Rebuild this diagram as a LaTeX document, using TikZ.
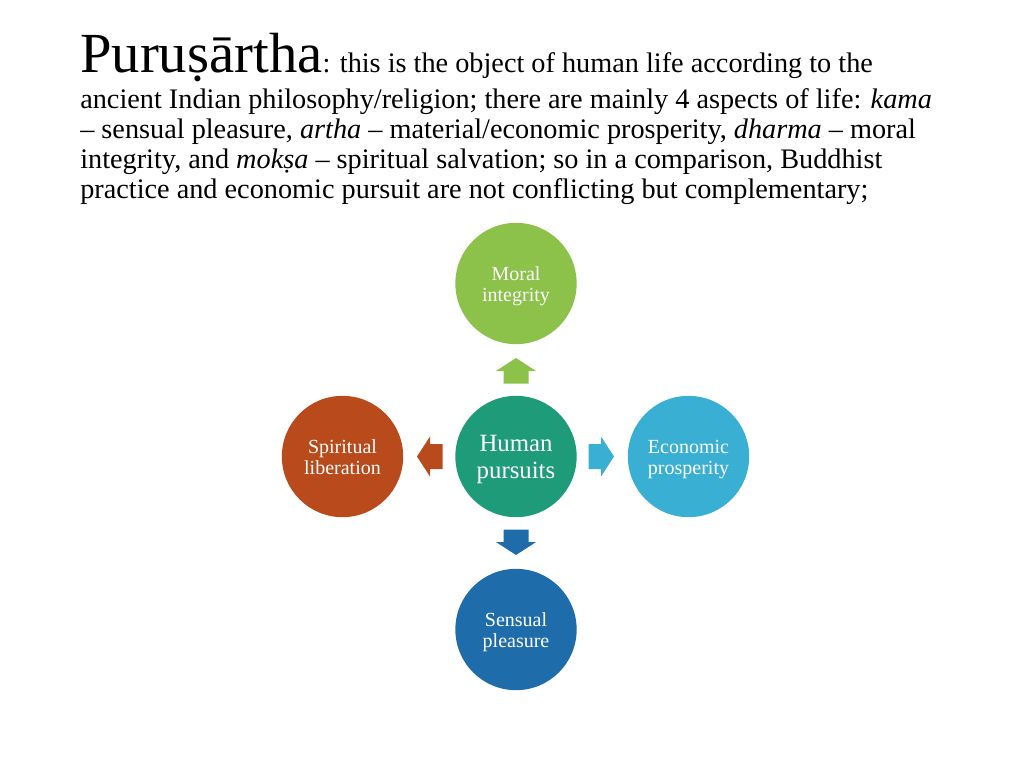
\documentclass[tikz,border=0pt]{standalone}
\usepackage{fontspec}
\setmainfont{Liberation Serif}
\definecolor{cgreen}{RGB}{140,193,74}
\definecolor{cteal}{RGB}{30,155,120}
\definecolor{ccyan}{RGB}{58,175,212}
\definecolor{corange}{RGB}{184,74,28}
\definecolor{cblue}{RGB}{31,108,170}
\tikzset{
  txtline/.style={anchor=base west, inner sep=0pt, font=\fontsize{21.2}{25}\selectfont},
  bubble/.style={circle, minimum size=91pt, inner sep=0pt},
  bubtext/.style={inner sep=0pt, text=white, align=center, font=\fontsize{15}{15.8}\selectfont}
}
\begin{document}
\begin{tikzpicture}[x=0.75pt,y=-0.75pt]
\useasboundingbox (0,0) rectangle (1024,768);
% heading text
\node[txtline] (l1) at (80,72) {{\fontsize{42.5}{48}\selectfont Puru\d{s}ārtha}: this is the object of human life according to the};
\node[txtline] (l2) at (80,108) {ancient Indian philosophy/religion; there are mainly 4 aspects of life: \textit{kama}};
\node[txtline] (l3) at (80,138) {– sensual pleasure, \textit{artha} – material/economic prosperity, \textit{dharma} – moral};
\node[txtline] (l4) at (80,168) {integrity, and \textit{mok\d{s}a} – spiritual salvation; so in a comparison, Buddhist};
\node[txtline] (l5) at (80,198) {practice and economic pursuit are not conflicting but complementary;};
% circles
\node[bubble, fill=cteal] (hp) at (516,456.5) {};
\node[bubble, fill=cgreen] (mi) at (516,283.5) {};
\node[bubble, fill=cblue] (sp) at (516,629.5) {};
\node[bubble, fill=corange] (sl) at (342.5,456.5) {};
\node[bubble, fill=ccyan] (ep) at (688.5,456.5) {};
\node[bubtext, font=\fontsize{18.6}{20.2}\selectfont] (hpt) at ([yshift=-2.2pt]hp.center) {Human\\pursuits};
\node[bubtext] (mit) at ([yshift=-2pt]mi.center) {Moral\\integrity};
\node[bubtext] (spt) at ([yshift=-2pt]sp.center) {Sensual\\pleasure};
\node[bubtext] (slt) at ([yshift=-0.8pt]sl.center) {Spiritual\\liberation};
\node[bubtext] (ept) at ([yshift=-2pt]ep.center) {Economic\\prosperity};
% block arrows
\fill[cgreen] (516,358) -- (536,371) -- (528.5,371) -- (528.5,383.5) -- (503.5,383.5) -- (503.5,371) -- (496,371) -- cycle;
\fill[cblue] (516,555) -- (536,542) -- (528.5,542) -- (528.5,529.5) -- (503.5,529.5) -- (503.5,542) -- (496,542) -- cycle;
\fill[ccyan] (614,456.5) -- (601,436.5) -- (601,444) -- (588.5,444) -- (588.5,469) -- (601,469) -- (601,476.5) -- cycle;
\fill[corange] (417,456.5) -- (430,436.5) -- (430,444) -- (442.5,444) -- (442.5,469) -- (430,469) -- (430,476.5) -- cycle;
\end{tikzpicture}
\end{document}
